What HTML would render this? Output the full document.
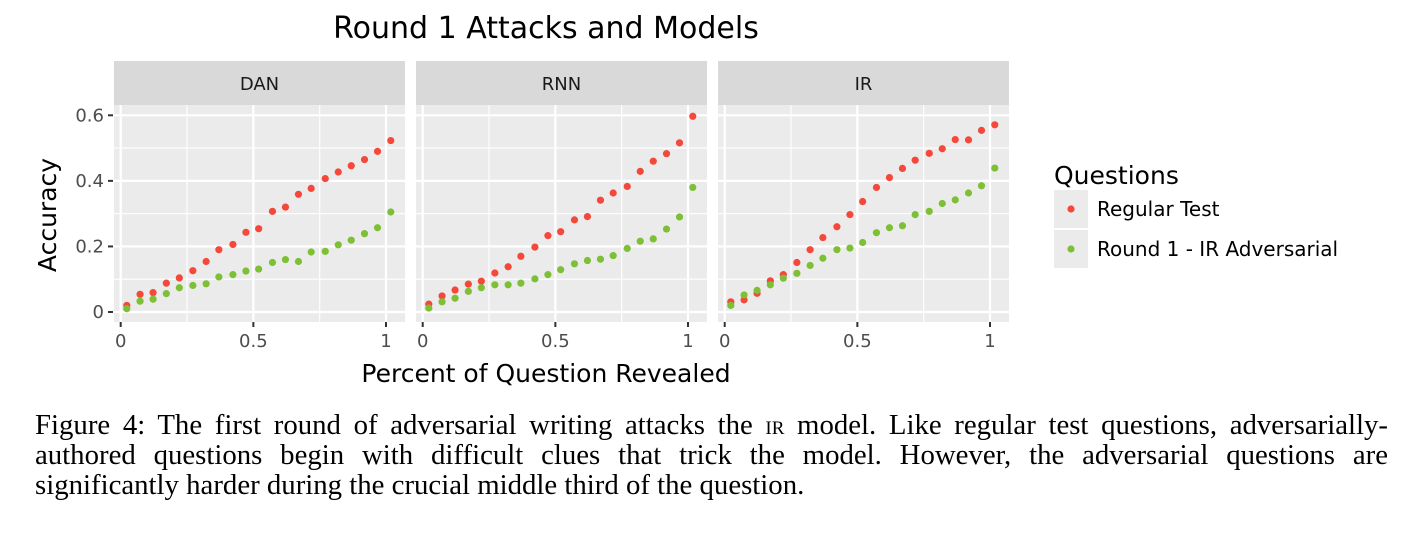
<!DOCTYPE html>
<html><head><meta charset="utf-8">
<style>
body{margin:0;background:#fff;width:1422px;height:536px;overflow:hidden;position:relative}
svg{position:absolute;left:0;top:0}
.cap{position:absolute;left:35px;top:410px;width:1353px;font-family:"Liberation Serif",serif;font-size:28.8px;line-height:30px;color:#000}
.cap div{height:30px;text-align:justify;text-align-last:justify;white-space:nowrap}
.cap div.last{text-align-last:left}
.sc{font-size:19px;line-height:0}
</style></head><body>
<svg id="chart" width="1422" height="400" font-family="DejaVu Sans, Liberation Sans, sans-serif"></svg>
<div class="cap">
<div>Figure 4: The first round of adversarial writing attacks the <span class="sc">IR</span> model. Like regular test questions, adversarially-</div>
<div>authored questions begin with difficult clues that trick the model. However, the adversarial questions are</div>
<div class="last">significantly harder during the crucial middle third of the question.</div>
</div>
<script>
const panels = ["DAN","RNN","IR"];
const xVals = [0.023,0.073,0.122,0.172,0.221,0.272,0.322,0.37,0.423,0.472,0.52,0.572,0.621,0.67,0.718,0.771,0.82,0.869,0.919,0.968,1.018];
const regularDAN = [.020,.054,.059,.088,.104,.126,.154,.190,.206,.243,.254,.307,.320,.359,.377,.407,.427,.446,.465,.490,.523];
const advDAN = [.010,.033,.039,.056,.074,.081,.086,.107,.114,.125,.131,.151,.160,.154,.183,.185,.205,.219,.239,.257,.305];
const regularRNN = [.024,.049,.067,.085,.094,.119,.138,.170,.198,.233,.245,.281,.291,.341,.363,.383,.429,.460,.483,.516,.597];
const advRNN = [.012,.031,.042,.063,.074,.083,.083,.088,.101,.114,.129,.147,.157,.161,.172,.194,.216,.223,.253,.290,.380];
const regularIR = [.031,.037,.057,.095,.114,.151,.190,.227,.260,.297,.337,.380,.410,.438,.463,.484,.498,.526,.525,.554,.571];
const advIR = [.020,.052,.066,.083,.103,.118,.142,.164,.190,.195,.212,.242,.257,.263,.297,.307,.331,.342,.363,.385,.439];
const yTicks = [0,0.2,0.4,0.6];
const yTickLabels = ["0","0.2","0.4","0.6"];
const xTicks = [0,0.5,1];
const xTickLabels = ["0","0.5","1"];
const series = {DAN:[regularDAN,advDAN],RNN:[regularRNN,advRNN],IR:[regularIR,advIR]};
const colors = ["#F4483B","#7DC035"];

const NS="http://www.w3.org/2000/svg";
const svg=document.getElementById('chart');
function mk(tag,attrs,parent){const e=document.createElementNS(NS,tag);for(const k in attrs)e.setAttribute(k,attrs[k]);(parent||svg).appendChild(e);return e;}
const panelLeft=[114,416,718], PW=291, plotTop=105, plotBottom=322;
const yScale=v=>312-v*(312-115.3)/0.6;
function xScale(p,v){return panelLeft[p]+6.7+v*265.3;}

panels.forEach((name,p)=>{
  const L=panelLeft[p];
  const g=mk('g',{});
  
  
  const strip=mk('rect',{x:L,y:61,width:PW,height:44,fill:'#d9d9d9'},g);
  
  
  const st=mk('text',{x:L+PW/2,y:90,'text-anchor':'middle','font-size':18,fill:'#1a1a1a'},g);
  st.textContent=name;
  
  
  mk('rect',{x:L,y:plotTop,width:PW,height:plotBottom-plotTop,fill:'#ebebeb'},g);
  [0.1,0.3,0.5].forEach(v=>mk('line',{x1:L,x2:L+PW,y1:yScale(v),y2:yScale(v),stroke:'#fff','stroke-width':1.1},g));
  [0.25,0.75].forEach(v=>mk('line',{x1:xScale(p,v),x2:xScale(p,v),y1:plotTop,y2:plotBottom,stroke:'#fff','stroke-width':1.1},g));
  yTicks.forEach(v=>mk('line',{x1:L,x2:L+PW,y1:yScale(v),y2:yScale(v),stroke:'#fff','stroke-width':2.2},g));
  xTicks.forEach((v,i)=>{
    const x=xScale(p,v);
    mk('line',{x1:x,x2:x,y1:plotTop,y2:plotBottom,stroke:'#fff','stroke-width':2.2},g);
    mk('line',{x1:x,x2:x,y1:plotBottom,y2:plotBottom+5,stroke:'#333','stroke-width':2},g);
    const t=mk('text',{x:x,y:plotBottom+25,'text-anchor':'middle','font-size':18,fill:'#4d4d4d'},g);
    t.textContent=xTickLabels[i];
    
    
  });
  series[name].forEach((arr,s)=>{
    arr.forEach((v,i)=>{
      const c=mk('circle',{cx:xScale(p,xVals[i]),cy:yScale(v),r:3.6,fill:colors[s]},g);
      
      
    });
  });
});
yTicks.forEach((v,i)=>{
  mk('line',{x1:108,x2:113,y1:yScale(v),y2:yScale(v),stroke:'#333','stroke-width':2});
  const t=mk('text',{x:104,y:yScale(v)+6,'text-anchor':'end','font-size':18,fill:'#4d4d4d'});
  t.textContent=yTickLabels[i];
  
  
});
const title=mk('text',{x:546,y:38,'text-anchor':'middle','font-size':30,fill:'#000'});
title.textContent='Round 1 Attacks and Models';


const xt=mk('text',{x:546,y:382,'text-anchor':'middle','font-size':25,fill:'#000'});
xt.textContent='Percent of Question Revealed';


const yt=mk('text',{x:0,y:0,'text-anchor':'middle','font-size':25,fill:'#000',transform:'translate(56,215) rotate(-90)'});
yt.textContent='Accuracy';


const lt=mk('text',{x:1054,y:184,'font-size':25,fill:'#000'});
lt.textContent='Questions';


["Regular Test","Round 1 - IR Adversarial"].forEach((lab,i)=>{
  const y0=190+i*40;
  const g=mk('g',{});
  
  
  mk('rect',{x:1054,y:y0,width:34,height:38,fill:'#ebebeb'},g);
  mk('circle',{cx:1071,cy:y0+19,r:3.6,fill:colors[i]},g);
  const t=mk('text',{x:1097,y:y0+26,'font-size':20,fill:'#000'},g);
  t.textContent=lab;
});
</script>
</body></html>
